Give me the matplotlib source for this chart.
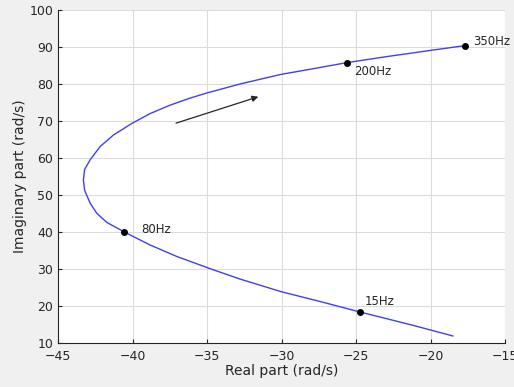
import matplotlib
matplotlib.use('Agg')
import matplotlib.pyplot as plt

# Root locus of the pole as frequency goes 15 Hz -> 350 Hz
curve_re = [-18.5, -21.2, -24.75, -27.4, -30.05, -32.8, -34.8, -37.04, -38.83,
            -40.55, -41.73, -42.4, -42.85, -43.22, -43.3, -43.22, -42.85, -42.18,
            -41.29, -40.03, -38.83, -37.48, -36.14, -35.0, -32.8, -30.05, -27.8,
            -25.6, -22.8, -19.99, -17.66]
curve_im = [11.9, 14.8, 18.4, 21.2, 23.9, 27.3, 30.1, 33.4, 36.5,
            40.0, 42.6, 45.05, 47.8, 51.3, 54.1, 56.9, 59.5, 63.1,
            66.2, 69.4, 72.0, 74.3, 76.2, 77.6, 80.0, 82.6, 84.2,
            85.8, 87.5, 89.1, 90.4]

mark_labels = ['15Hz', '80Hz', '200Hz', '350Hz']
mark_re = [-24.75, -40.55, -25.6, -17.66]
mark_im = [18.4, 40.0, 85.8, 90.4]
label_re = [-24.4, -39.4, -25.1, -17.15]
label_im = [21.3, 40.8, 83.5, 91.6]

arrow_start = (-37.26, 69.2)
arrow_end = (-31.38, 76.8)

fig = plt.figure(figsize=(5.14, 3.87), dpi=100, facecolor='#f0f0f0')
ax = fig.add_axes([0.113, 0.1137, 0.8695, 0.8603])
ax.set_facecolor('white')

ax.plot(curve_re, curve_im, color='#4040ee', lw=1.0, solid_joinstyle='round')
ax.plot(mark_re, mark_im, 'o', color='black', ms=4)
for lab, x, y in zip(mark_labels, label_re, label_im):
    ax.text(x, y, lab, fontsize=8.5, color='#262626', va='center', ha='left')

ax.annotate('', xy=arrow_end, xytext=arrow_start,
            arrowprops=dict(arrowstyle='-|>', color='#262626', lw=0.9,
                            mutation_scale=9))

ax.set_xlim(-45, -15)
ax.set_ylim(10, 100)
ax.set_xticks(range(-45, -14, 5))
ax.set_yticks(range(10, 101, 10))
ax.grid(True, color='#dcdcdc', lw=0.8)
ax.set_axisbelow(True)

for s in ['top', 'right']:
    ax.spines[s].set_visible(False)
for s in ['left', 'bottom']:
    ax.spines[s].set_color('#262626')
    ax.spines[s].set_linewidth(0.8)
ax.tick_params(direction='in', length=3, colors='#262626', labelsize=9)
ax.tick_params(axis='x', pad=5)

ax.set_xlabel('Real part (rad/s)', fontsize=10, color='#262626', labelpad=1)
ax.set_ylabel('Imaginary part (rad/s)', fontsize=10, color='#262626', labelpad=2)

plt.savefig('out.png', dpi=100, facecolor=fig.get_facecolor())
